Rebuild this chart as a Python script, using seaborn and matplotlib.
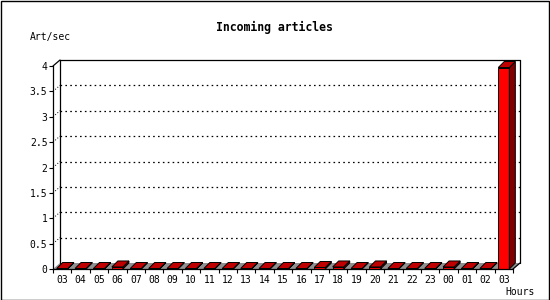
import numpy as np
import pandas as pd
import matplotlib
matplotlib.use("Agg")
import matplotlib.pyplot as plt
import seaborn as sns
from matplotlib.patches import Polygon, Rectangle
from matplotlib.lines import Line2D

# ---- data ----
hours = ["03", "04", "05", "06", "07", "08", "09", "10", "11", "12", "13", "14",
         "15", "16", "17", "18", "19", "20", "21", "22", "23", "00", "01", "02", "03"]
rates = [0.01, 0.01, 0.01, 0.04, 0.01, 0.01, 0.01, 0.01, 0.01, 0.01, 0.01, 0.01,
         0.01, 0.01, 0.03, 0.04, 0.01, 0.04, 0.01, 0.01, 0.01, 0.04, 0.01, 0.01, 3.97]
yticks = [0, 0.5, 1, 1.5, 2, 2.5, 3, 3.5, 4]
ytick_labels = ["0", "0.5", "1", "1.5", "2", "2.5", "3", "3.5", "4"]
title = "Incoming articles"
ylabel = "Art/sec"
xlabel = "Hours"

# ---- style ----
sns.set_theme(style="white")
plt.rcParams["font.family"] = ["DejaVu Sans Mono", "DejaVu Sans"]

W, H = 550, 300
fig = plt.figure(figsize=(W / 100, H / 100), dpi=100, facecolor="white")
ax = fig.add_axes([53 / W, 31 / H, 460 / W, 203 / H])
ax.set_facecolor("none")

df = pd.DataFrame({"slot": np.arange(len(hours)), "rate": rates})
sns.barplot(data=df, x="slot", y="rate", color="#ff0000", saturation=1,
            width=0.6, edgecolor="black", linewidth=0.7, ax=ax, zorder=5)
ax.set_xlim(-0.5, len(hours) - 0.5)
ax.set_ylim(0, 4)
ax.set_xlabel("")
ax.set_ylabel("")

to_px = ax.transData.transform
from_px = ax.transData.inverted().transform

WALL_DX, WALL_DY = 7, 6   # depth of back wall in pixels
BAR_D = 6                 # depth of bars in pixels


def shifted(x, y, dx, dy):
    p = to_px((x, y))
    return from_px((p[0] + dx, p[1] + dy))


x0, x1 = ax.get_xlim()
# floor
floor = [(x0, 0), (x1, 0), tuple(shifted(x1, 0, WALL_DX, WALL_DY)),
         tuple(shifted(x0, 0, WALL_DX, WALL_DY))]
ax.add_patch(Polygon(floor, closed=True, facecolor="#909090", edgecolor="none",
                     clip_on=False, zorder=1))

# back wall frame
bl = shifted(x0, 0, WALL_DX, WALL_DY)
tl = shifted(x0, 4, WALL_DX, WALL_DY)
tr = shifted(x1, 4, WALL_DX, WALL_DY)
br = shifted(x1, 0, WALL_DX, WALL_DY)
for a, b in [(bl, tl), (tl, tr), (tr, br), ((x0, 4), tl), ((x1, 0), br)]:
    ax.add_line(Line2D([a[0], b[0]], [a[1], b[1]], color="black", lw=0.9,
                       clip_on=False, zorder=2))

# dotted gridlines on the back wall
for v in yticks[1:-1]:
    a = shifted(x0, v, WALL_DX, WALL_DY)
    b = shifted(x1, v, WALL_DX, WALL_DY)
    ax.add_line(Line2D([a[0], b[0]], [a[1], b[1]], color="black", lw=0.9,
                       linestyle=(0, (1.3, 2.6)), clip_on=False, zorder=2))
    ax.add_line(Line2D([x0, a[0]], [v, a[1]], color="black", lw=0.7,
                       linestyle=(0, (1, 2)), clip_on=False, zorder=2))

# 3D faces of the bars
for p in ax.patches[:]:
    if not isinstance(p, Rectangle):
        continue
    bx, bw, bh = p.get_x(), p.get_width(), p.get_height()
    p.set_clip_on(False)
    top = [(bx, bh), (bx + bw, bh), tuple(shifted(bx + bw, bh, BAR_D, BAR_D)),
           tuple(shifted(bx, bh, BAR_D, BAR_D))]
    side = [(bx + bw, 0), (bx + bw, bh), tuple(shifted(bx + bw, bh, BAR_D, BAR_D)),
            tuple(shifted(bx + bw, 0, BAR_D, BAR_D))]
    ax.add_patch(Polygon(side, closed=True, facecolor="#800000", edgecolor="black",
                         lw=0.7, clip_on=False, zorder=6))
    ax.add_patch(Polygon(top, closed=True, facecolor="#c00000", edgecolor="black",
                         lw=0.7, clip_on=False, zorder=6))

# axes / ticks
for s in ["top", "right"]:
    ax.spines[s].set_visible(False)
for s in ["left", "bottom"]:
    ax.spines[s].set_color("black")
    ax.spines[s].set_linewidth(0.9)
    ax.spines[s].set_zorder(7)

ax.set_yticks(yticks, ytick_labels)
ax.set_xticks(np.arange(len(hours)), hours)
ax.set_xticks(np.arange(len(hours) + 1) - 0.5, minor=True)
ax.tick_params(axis="y", which="major", direction="out", length=3, width=0.8,
               color="black", labelsize=7, labelcolor="black", pad=1, left=True)
ax.tick_params(axis="x", which="major", length=0, labelsize=7, labelcolor="black", pad=4)
ax.tick_params(axis="x", which="minor", direction="out", length=3, width=0.8,
               color="black", bottom=True)

fig.text(274 / W, 1 - 27 / H, title, ha="center", va="center", fontsize=8.3,
         fontweight="bold", color="black")
fig.text(30 / W, 1 - 37 / H, ylabel, ha="left", va="center", fontsize=7, color="black")
fig.text(535 / W, 1 - 292 / H, xlabel, ha="right", va="center", fontsize=7, color="black")

fig.add_artist(Rectangle((0.5 / W, 0.5 / H), (W - 1.5) / W, (H - 1.5) / H,
                         transform=fig.transFigure, fill=False, edgecolor="black", lw=1))

fig.savefig("out.png", dpi=100, facecolor="white")
